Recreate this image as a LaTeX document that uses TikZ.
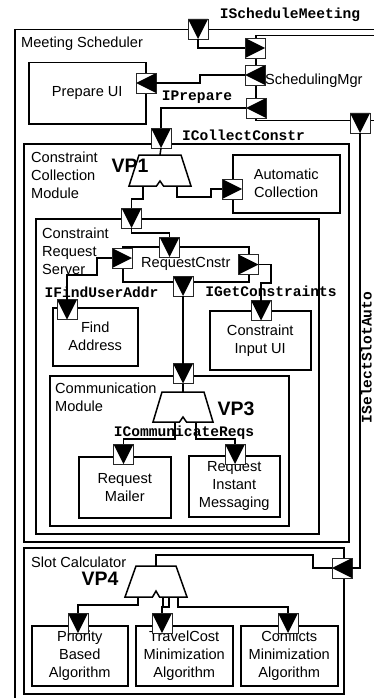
\documentclass[tikz,border=0pt]{standalone}
\usepackage{fontspec}
\setmainfont{Liberation Sans}
\setmonofont{Liberation Mono}
\begin{document}
\begin{tikzpicture}[x=1pt,y=-1pt,font=\fontsize{14.6}{18}\selectfont]
\tikzset{
  cbox/.style={draw, line width=1.5pt, rectangle, inner sep=0pt, anchor=north west, align=center, fill=white},
  port/.style={draw=black!85, line width=0.8pt, fill=white, minimum size=20pt, inner sep=0pt, outer sep=0pt},
  portD/.style={port, path picture={\fill[black] (path picture bounding box.north west) -- (path picture bounding box.north east) -- (path picture bounding box.south) -- cycle;}},
  portR/.style={port, path picture={\fill[black] (path picture bounding box.north west) -- (path picture bounding box.south west) -- (path picture bounding box.east) -- cycle;}},
  portL/.style={port, path picture={\fill[black] (path picture bounding box.north east) -- (path picture bounding box.south east) -- (path picture bounding box.west) -- cycle;}},
  conn/.style={line width=1.5pt},
  iface/.style={font=\fontsize{14.6}{18}\selectfont\ttfamily\bfseries, inner sep=0pt, anchor=base},
  mtitle/.style={inner sep=0pt, align=left, anchor=north west},
  stitle/.style={inner sep=0pt, anchor=base west},
  vptext/.style={font=\fontsize{19.5}{22}\selectfont\bfseries, inner sep=0pt, anchor=base},
  vp/.style={draw, line width=1.5pt, fill=white, line join=miter},
}
\useasboundingbox (0,0) rectangle (374,698);
\clip (0,0) rectangle (374,698);
\fill[white] (0,0) rectangle (374,698);

% boxes
\node[cbox, minimum width=406pt, minimum height=691pt] (ms) at (14,29) {};
\node[cbox, minimum width=165pt, minimum height=85pt] (smgr) at (255,35) {};
\node[cbox, minimum width=117pt, minimum height=61pt] (prep) at (28,62) {Prepare UI};
\node[cbox, minimum width=325pt, minimum height=398pt] (ccm) at (23,143) {};
\node[cbox, minimum width=107pt, minimum height=58pt] (ac) at (232,154) {Automatic\\Collection};
\node[cbox, minimum width=283pt, minimum height=315pt] (crs) at (35,218) {};
\node[cbox, minimum width=126pt, minimum height=35pt] (rc) at (122,246) {RequestCnstr};
\node[cbox, minimum width=85pt, minimum height=58pt] (fa) at (52,307) {Find\\Address};
\node[cbox, minimum width=101pt, minimum height=59pt] (ciu) at (209,310) {Constraint\\Input UI};
\node[cbox, minimum width=239pt, minimum height=150pt] (cm) at (49,375) {};
\node[cbox, minimum width=92pt, minimum height=61pt] (rm) at (78,456) {Request\\Mailer};
\node[cbox, minimum width=91pt, minimum height=61pt] (rim) at (188,455) {Request\\Instant\\Messaging};
\node[cbox, minimum width=320pt, minimum height=146pt] (sc) at (23,547) {};
\node[cbox, minimum width=96pt, minimum height=60pt] (pb) at (31,625) {Priority\\Based\\Algorithm};
\node[cbox, minimum width=97pt, minimum height=60pt] (tc) at (135,625) {TravelCost\\Minimization\\Algorithm};
\node[cbox, minimum width=97pt, minimum height=60pt] (cf) at (240,625) {Conflicts\\Minimization\\Algorithm};

% container titles
\node[stitle] (msl) at (21,47.5) {Meeting Scheduler};
\node[stitle] (smgrl) at (265,85) {SchedulingMgr};
\node[mtitle] (ccml) at (31,152) {Constraint\\Collection\\Module};
\node[mtitle] (crsl) at (42,228) {Constraint\\Request\\Server};
\node[mtitle] (cml) at (55,383) {Communication\\Module};
\node[stitle] (scl) at (31,567) {Slot Calculator};

% variation points
\draw[vp] (129,186) -- (139,155) -- (181,155) -- (191,186) -- (163.5,186) -- (160,181) -- (156.5,186) -- cycle;
\coordinate (vp1top) at (160,155);
\coordinate (vp1l) at (143,186);
\coordinate (vp1r) at (177,186);
\draw[vp] (153,422) -- (162,392) -- (204,392) -- (213,422) -- (186.5,422) -- (183,417) -- (179.5,422) -- cycle;
\coordinate (vp3top) at (183,392);
\coordinate (vp3l) at (175,422);
\coordinate (vp3r) at (196,422);
\draw[vp] (125,597) -- (136,566) -- (176,566) -- (187,597) -- (159.5,597) -- (156,591) -- (152.5,597) -- cycle;
\coordinate (vp4top) at (156,566);
\coordinate (vp4l) at (138,597);
\coordinate (vp4m) at (169,597);
\coordinate (vp4n) at (163,597);
\coordinate (vp4r) at (178,597);

\node[vptext] (vp1t) at (130,172) {VP1};
\node[vptext] (vp3t) at (236,415) {VP3};
\node[vptext] (vp4t) at (100,585) {VP4};

% interface labels
\node[iface] (lsm) at (290,18.5) {IScheduleMeeting};
\node[iface] (lprep) at (197,101) {IPrepare};
\node[iface] (licc) at (243.5,140) {ICollectConstr};
\node[iface] (lfua) at (101.5,297) {IFindUserAddr};
\node[iface] (lgc) at (271,296) {IGetConstraints};
\node[iface] (lcr) at (184,436) {ICommunicateReqs};
\node[iface, anchor=center, rotate=90] (lssa) at (366.5,357.5) {ISelectSlotAuto};

% ports
\node[portD] (pSM) at (198,29) {};
\node[portR] (pS1) at (255,48) {};
\node[portL] (pS2) at (255,75) {};
\node[portL] (pS3) at (256,108) {};
\node[portD] (pSSA) at (360,123) {};
\node[portL] (pPrep) at (146,83) {};
\node[portD] (pICC) at (161,138) {};
\node[portR] (pAC) at (232,189) {};
\node[portD] (pCRS) at (131.5,218) {};
\node[portD] (pRCt) at (169.5,247) {};
\node[portR] (pRCl) at (122,258) {};
\node[portR] (pRCr) at (248.5,264.5) {};
\node[portD] (pRCb) at (183,286) {};
\node[portD] (pFA) at (67,309.5) {};
\node[portD] (pCIU) at (261,310.5) {};
\node[portD] (pCM) at (183,373.5) {};
\node[portD] (pRM) at (123.5,454) {};
\node[portD] (pRIM) at (235,454) {};
\node[portL] (pSC) at (342,568) {};
\node[portD] (pPB) at (78,623) {};
\node[portD] (pTC) at (162,623) {};
\node[portD] (pCF) at (288,623) {};

% connectors
\draw[conn] (pSM.south) |- (pS1.west);
\draw[conn] (pS2.west) -- (200,75) -- (200,83) -- (pPrep.east);
\draw[conn] (pS3.west) -| (pICC.north);
\draw[conn] (pSSA.south) |- (pSC.east);
\draw[conn] (pICC.south) -- (vp1top);
\draw[conn] (vp1l) -- (143,199) -- (131.5,199) -- (pCRS.north);
\draw[conn] (vp1r) -- (177,197) -- (211,197) -- (211,189) -- (pAC.west);
\draw[conn] (pCRS.south) -- (131.5,233) -- (169.5,233) -- (pRCt.north);
\draw[conn] (pRCl.west) -- (97,258) -- (97,275) -- (67,275) -- (pFA.north);
\draw[conn] (pRCr.east) -- (271,264.5) -- (271,283) -- (261,283) -- (pCIU.north);
\draw[conn] (pRCb.south) -- (pCM.north);
\draw[conn] (pCM.south) -- (vp3top);
\draw[conn] (vp3l) -- (175,439) -| (pRM.north);
\draw[conn] (vp3r) -- (196,439) -| (pRIM.north);
\draw[conn] (pSC.west) -- (313,568) -- (313,555) -| (vp4top);
\draw[conn] (vp4l) -- (138,605) -| (pPB.north);
\draw[conn] (vp4m) -- (169,607) -| (pTC.north);
\draw[conn] (vp4n) -- (163,607);
\draw[conn] (vp4r) -- (178,607) -| (pCF.north);
\end{tikzpicture}
\end{document}
